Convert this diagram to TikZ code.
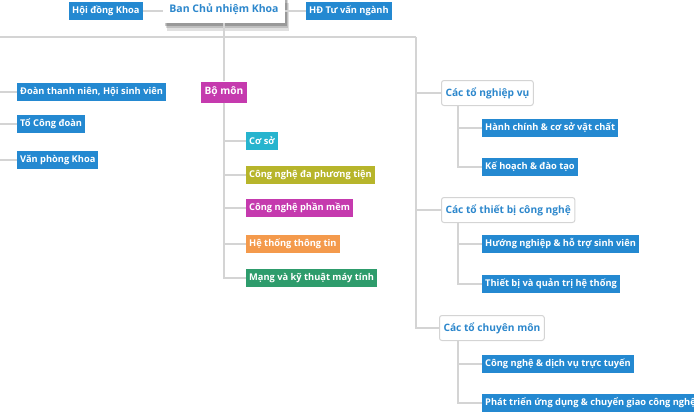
\documentclass[tikz,border=0pt]{standalone}
\usepackage{fontspec}
\setmainfont{Open Sans}
\usetikzlibrary{shadows}
\definecolor{unitblue}{HTML}{2489D1}
\definecolor{bmpink}{HTML}{C53AAE}
\definecolor{cyanbox}{HTML}{27B4CE}
\definecolor{olivebox}{HTML}{B7B52B}
\definecolor{orangebox}{HTML}{F49A4C}
\definecolor{greenbox}{HTML}{2E9C6C}
\definecolor{linegray}{HTML}{D4D4D4}
\definecolor{labelblue}{HTML}{2C87CC}
\begin{document}
\begin{tikzpicture}[x=1pt,y=1pt,
	link/.style={draw=linegray,line width=1.5pt},
	unit/.style={fill=#1,text=white,font=\fontsize{9.3}{11}\selectfont\bfseries,inner xsep=3pt,inner ysep=0pt,minimum height=18pt,anchor=west},
	unit/.default=unitblue,
	group/.style={draw=linegray,line width=1pt,rounded corners=2.5pt,fill=white,text=labelblue,font=\fontsize{10.2}{12}\selectfont\bfseries,inner xsep=4pt,minimum height=25pt,anchor=west},
	chief/.style={fill=white,text=labelblue,font=\fontsize{10.5}{12}\selectfont\bfseries,minimum width=122pt,minimum height=28pt,
		drop shadow={opacity=0.12,shadow xshift=4pt,shadow yshift=-8pt,fill=black},
		drop shadow={opacity=0.15,shadow xshift=3pt,shadow yshift=-5pt,fill=black},
		drop shadow={opacity=0.2,shadow xshift=2pt,shadow yshift=-3pt,fill=black}}]
	\useasboundingbox (0,0) rectangle (694,-413);
	% top row
	\node[chief] (bcn) at (224,-9) {Ban Chủ nhiệm Khoa};
	\node[unit] (hdk) at (69,-11) {Hội đồng Khoa};
	\node[unit] (hdtv) at (306,-11) {HĐ Tư vấn ngành};
	\draw[link] (hdk.east) -- (hdk.east -| bcn.west);
	\draw[link] (bcn.east |- hdtv.west) -- (hdtv.west);
	\coordinate (tl) at (-4,-37);
	\coordinate (tr) at (416,-37);
	\draw[link] (tl) -- (tr);
	% left column
	\node[unit] (dtn) at (17,-92) {Đoàn thanh niên, Hội sinh viên};
	\node[unit] (cd) at (17,-124) {Tổ Công đoàn};
	\node[unit] (vpk) at (17,-160) {Văn phòng Khoa};
	\draw[link] (tl) |- (vpk.west);
	\foreach \n in {dtn,cd} \draw[link] (\n.west) -- (\n.west -| tl);
	% bo mon
	\node[unit=bmpink,anchor=center,font=\fontsize{10.2}{12}\selectfont\bfseries,inner xsep=4pt,minimum height=21pt] (bm) at (224,-92) {Bộ môn};
	\node[unit=cyanbox] (cs) at (246,-141) {Cơ sở};
	\node[unit=olivebox] (dpt) at (246,-175) {Công nghệ đa phương tiện};
	\node[unit=bmpink] (pm) at (246,-208) {Công nghệ phần mềm};
	\node[unit=orangebox] (httt) at (246,-244) {Hệ thống thông tin};
	\node[unit=greenbox] (mang) at (246,-278) {Mạng và kỹ thuật máy tính};
	\draw[link] (bcn.south) -- (bm.north);
	\draw[link] (bm.south) |- (mang.west);
	\foreach \n in {cs,dpt,pm,httt} \draw[link] (\n.west) -- (\n.west -| bm.south);
	% right groups
	\node[group] (nv) at (441,-93) {Các tổ nghiệp vụ};
	\node[group] (tb) at (441,-210) {Các tổ thiết bị công nghệ};
	\node[group] (cm) at (439,-328) {Các tổ chuyên môn};
	\draw[link] (tr) |- (cm.west);
	\foreach \n in {nv,tb} \draw[link] (\n.west) -- (\n.west -| tr);
	\node[unit] (hc) at (482,-128) {Hành chính \& cơ sở vật chất};
	\node[unit] (kh) at (482,-167) {Kế hoạch \& đào tạo};
	\node[unit] (hn) at (482,-244) {Hướng nghiệp \& hỗ trợ sinh viên};
	\node[unit] (qt) at (482,-284) {Thiết bị và quản trị hệ thống};
	\node[unit] (dv) at (482,-364) {Công nghệ \& dịch vụ trực tuyến};
	\node[unit] (pt) at (482,-403) {Phát triển ứng dụng \& chuyển giao công nghệ};
	\coordinate (nvs) at ([xshift=17pt]nv.south west);
	\coordinate (tbs) at ([xshift=17pt]tb.south west);
	\coordinate (cms) at ([xshift=19pt]cm.south west);
	\draw[link] (nvs) |- (kh.west);
	\draw[link] (hc.west) -- (hc.west -| nvs);
	\draw[link] (tbs) |- (qt.west);
	\draw[link] (hn.west) -- (hn.west -| tbs);
	\draw[link] (cms) |- (pt.west);
	\draw[link] (dv.west) -- (dv.west -| cms);
\end{tikzpicture}
\end{document}
